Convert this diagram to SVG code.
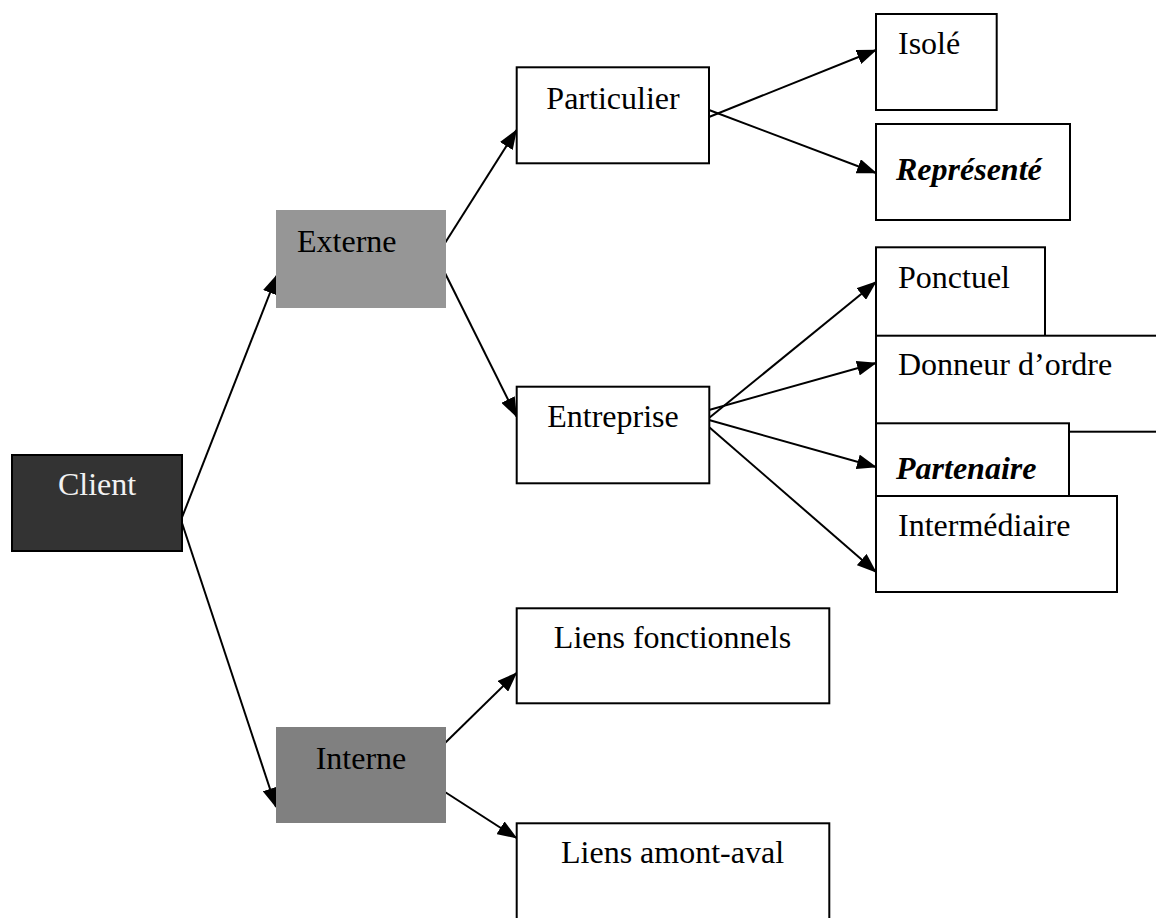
<svg xmlns="http://www.w3.org/2000/svg" width="1156" height="918" viewBox="0 0 1156 918">
<style>
text { font-family: "Liberation Serif", "Times New Roman", serif; font-size: 32px; fill: #000; }
.box { fill: #fff; stroke: #000; stroke-width: 2; }
.c { text-anchor: middle; }
.bi { font-weight: bold; font-style: italic; }
.conn line { stroke: #000; stroke-width: 2; marker-end: url(#arr); }
</style>
<defs>
<marker id="arr" markerUnits="userSpaceOnUse" markerWidth="20" markerHeight="15" viewBox="0 0 20 15" refX="19" refY="7.5" orient="auto">
<path d="M0,0 L20,7.5 L0,15 Z" fill="#000"/>
</marker>
</defs>
<g id="connectors" class="conn">
<line x1="181" y1="520" x2="277" y2="275"/>
<line x1="181" y1="520" x2="276" y2="807"/>
<line x1="445" y1="243" x2="516.5" y2="130"/>
<line x1="445" y1="273" x2="516.5" y2="416.5"/>
<line x1="709" y1="117" x2="876" y2="50"/>
<line x1="709" y1="110" x2="876" y2="173"/>
<line x1="709" y1="418" x2="876" y2="282"/>
<line x1="709" y1="410" x2="876" y2="363"/>
<line x1="709" y1="420" x2="876" y2="467"/>
<line x1="709" y1="427" x2="876" y2="572"/>
<line x1="445" y1="743" x2="516.5" y2="673"/>
<line x1="445" y1="792" x2="516.5" y2="838"/>
</g>
<g id="client">
<rect x="12" y="455" width="170" height="96" fill="#333" stroke="#000" stroke-width="2"/>
<text x="97" y="495" class="c" style="fill:#f2f2f2">Client</text>
</g>
<g id="externe">
<rect x="276" y="210" width="170" height="98" fill="#969696"/>
<text x="297" y="252">Externe</text>
</g>
<g id="interne">
<rect x="276" y="727" width="170" height="96" fill="#808080"/>
<text x="361" y="769" class="c">Interne</text>
</g>
<g id="particulier">
<rect class="box" x="516.7" y="67.3" width="192.3" height="96"/>
<text x="613" y="109" class="c">Particulier</text>
</g>
<g id="entreprise">
<rect class="box" x="516.7" y="386.7" width="192.6" height="96.6"/>
<text x="613" y="427" class="c">Entreprise</text>
</g>
<g id="isole">
<rect class="box" x="876" y="14" width="120.7" height="96"/>
<text x="898" y="54">Isolé</text>
</g>
<g id="represente">
<rect class="box" x="876" y="124" width="194" height="96"/>
<text x="896" y="180" class="bi">Représenté</text>
</g>
<g id="ponctuel">
<rect class="box" x="876" y="247.3" width="169" height="96"/>
<text x="898" y="288">Ponctuel</text>
</g>
<g id="donneur">
<rect class="box" x="876" y="335.7" width="300" height="96"/>
<text x="898" y="375">Donneur d’ordre</text>
</g>
<g id="partenaire">
<rect class="box" x="876" y="423.3" width="193" height="96"/>
<text x="896" y="479" class="bi">Partenaire</text>
</g>
<g id="intermediaire">
<rect class="box" x="876" y="496" width="241" height="96"/>
<text x="898" y="536">Intermédiaire</text>
</g>
<g id="liens-fonctionnels">
<rect class="box" x="516.7" y="608.3" width="312.6" height="95"/>
<text x="672.5" y="648" class="c">Liens fonctionnels</text>
</g>
<g id="liens-amont-aval">
<rect class="box" x="516.7" y="823.3" width="312.6" height="120"/>
<text x="672.5" y="862.5" class="c">Liens amont-aval</text>
</g>
</svg>
